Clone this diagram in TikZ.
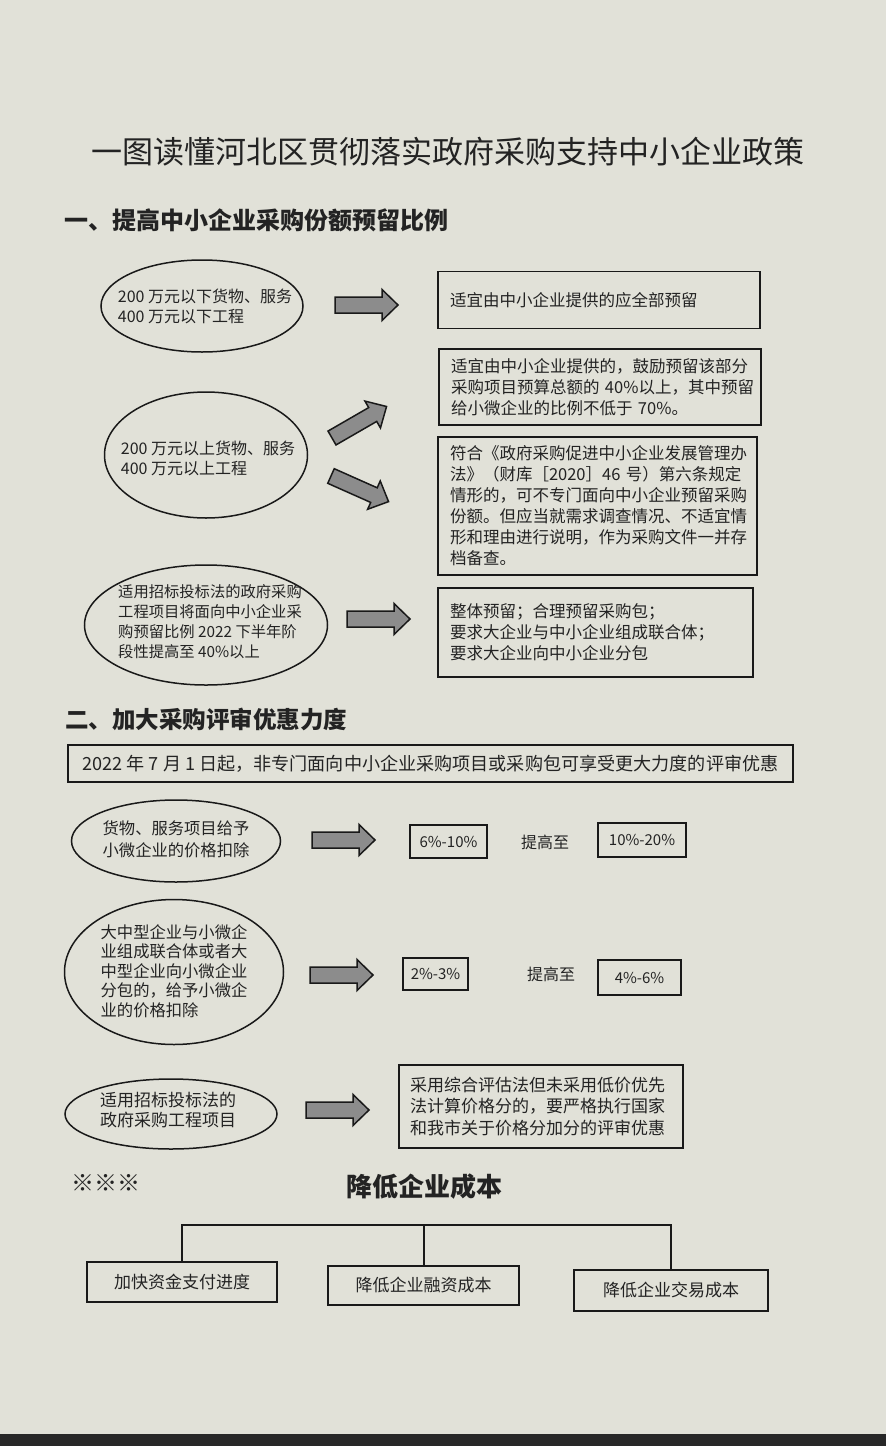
\documentclass[tikz,border=0pt]{standalone}
\usepackage{fontspec}
\setmainfont{Noto Sans CJK SC}
\usetikzlibrary{shapes.geometric}
\definecolor{paper}{RGB}{225,225,216}
\definecolor{ink}{RGB}{25,25,25}
\definecolor{txt}{RGB}{35,35,35}
\definecolor{arrowfill}{RGB}{140,140,140}
\definecolor{edge}{RGB}{40,40,40}
\newcommand{\fs}[2]{\fontsize{#1}{#2}\selectfont}
\begin{document}
\begin{tikzpicture}[x=1pt,y=-1pt,
  every node/.style={text=txt},
  oval/.style={draw=ink, line width=1.5pt, ellipse, inner sep=0pt},
  otext/.style={align=left, inner sep=0pt, font=\fs{16}{20}},
  tbox/.style={draw=ink, line width=1.8pt, inner xsep=12pt, inner ysep=0pt, align=left, font=\fs{16.5}{21}},
  sbox/.style={draw=ink, line width=1.8pt, inner sep=0pt, font=\fs{15}{18}},
  lbox/.style={draw=ink, line width=1.8pt, inner sep=0pt, font=\fs{17}{20}},
  barrow/.pic={\draw[line width=1.5pt, draw=ink, fill=arrowfill, line join=miter]
     (0,-8) -- (47,-8) -- (47,-15.5) -- (63,0) -- (47,15.5) -- (47,8) -- (0,8) -- cycle;},
  conn/.style={draw=ink, line width=2pt}
]
% page
\fill[paper] (0,0) rectangle (886,1446);
\fill[edge] (0,1434) rectangle (886,1446);
\useasboundingbox (0,0) rectangle (886,1446);

% title and headings
\node[font=\fs{31}{34}] (title) at (448,152) {一图读懂河北区贯彻落实政府采购支持中小企业政策};
\node[font=\fs{24}{28}\bfseries, anchor=west, inner sep=0pt] (h1) at (64,220) {一、提高中小企业采购份额预留比例};

% section 1
\node[oval, minimum width=202pt, minimum height=92pt] (e1) at (202,306) {};
\node[otext] (e1t) at (205,306) {200~万元以下货物、服务\\400~万元以下工程};
\node[tbox, text width=298pt, minimum height=57pt] (b1) at (599,300) {适宜由中小企业提供的应全部预留};
\pic at (335,305) {barrow};

\node[tbox, text width=298pt, minimum height=76pt] (b2) at (600,387) {适宜由中小企业提供的，鼓励预留该部分\\采购项目预算总额的~40\%以上，其中预留\\给小微企业的比例不低于~70\%。};
\node[oval, minimum width=203pt, minimum height=126pt] (e2) at (206,455) {};
\node[otext] (e2t) at (208,458) {200~万元以上货物、服务\\400~万元以上工程};
\pic[rotate=30] at (332,438) {barrow};
\pic[rotate=-24] at (331,476) {barrow};
\node[tbox, text width=295pt, minimum height=138pt] (b3) at (597.5,506) {符合《政府采购促进中小企业发展管理办\\法》（财库［2020］46~号）第六条规定\\情形的，可不专门面向中小企业预留采购\\份额。但应当就需求调查情况、不适宜情\\形和理由进行说明，作为采购文件一并存\\档备查。};

\node[oval, minimum width=243pt, minimum height=120pt] (e3) at (206,625) {};
\node[otext, font=\fs{15.3}{20}] (e3t) at (210,622) {适用招标投标法的政府采购\\工程项目将面向中小企业采\\购预留比例~2022~下半年阶\\段性提高至~40\%以上};
\pic at (347,619) {barrow};
\node[tbox, text width=291pt, minimum height=89pt] (b4) at (595.5,632.5) {整体预留；合理预留采购包；\\要求大企业与中小企业组成联合体；\\要求大企业向中小企业分包};

% section 2
\node[font=\fs{23.5}{28}\bfseries, anchor=west, inner sep=0pt] (h2) at (65,719) {二、加大采购评审优惠力度};
\node[draw=ink, line width=1.8pt, minimum width=725pt, minimum height=37pt, inner sep=0pt, font=\fs{18.1}{20}] (b5) at (430.5,763.5) {2022 年 7 月 1 日起，非专门面向中小企业采购项目或采购包可享受更大力度的评审优惠};

\node[oval, minimum width=209pt, minimum height=82pt] (e4) at (176,841) {};
\node[otext, align=center, font=\fs{16.3}{22}] (e4t) at (176,839) {货物、服务项目给予\\小微企业的价格扣除};
\pic at (312,840) {barrow};
\node[sbox, minimum width=77pt, minimum height=33pt] (s1) at (448.5,841.5) {6\%-10\%};
\node[font=\fs{16}{18}] (up1) at (545,842) {提高至};
\node[sbox, minimum width=88pt, minimum height=34pt] (s2) at (642,840) {10\%-20\%};

\node[oval, minimum width=219pt, minimum height=145pt] (e5) at (174,972) {};
\node[otext, font=\fs{16.3}{19.5}] (e5t) at (174,971) {大中型企业与小微企\\业组成联合体或者大\\中型企业向小微企业\\分包的，给予小微企\\业的价格扣除};
\pic at (310,975) {barrow};
\node[sbox, minimum width=65pt, minimum height=32pt] (s3) at (435.5,974) {2\%-3\%};
\node[font=\fs{16}{18}] (up2) at (551,974) {提高至};
\node[sbox, minimum width=83pt, minimum height=35pt] (s4) at (639.5,977.5) {4\%-6\%};

\node[oval, minimum width=212pt, minimum height=70pt] (e6) at (171,1114) {};
\node[otext, font=\fs{17}{20}] (e6t) at (168,1110) {适用招标投标法的\\政府采购工程项目};
\pic at (306,1110) {barrow};
\node[tbox, inner xsep=11pt, text width=262pt, minimum height=83pt, font=\fs{17}{21.5}] (b7) at (541,1106.5) {采用综合评估法但未采用低价优先\\法计算价格分的，要严格执行国家\\和我市关于价格分加分的评审优惠};

% section 3
\node[font=\fs{23}{24}, anchor=west, inner sep=0pt] (stars) at (71,1183) {※※※};
\node[font=\fs{26}{30}\bfseries] (cost) at (424,1187) {降低企业成本};
\node[lbox, minimum width=190pt, minimum height=40pt] (tA) at (182,1282) {加快资金支付进度};
\node[lbox, minimum width=191pt, minimum height=39pt] (tB) at (423.5,1285.5) {降低企业融资成本};
\node[lbox, minimum width=194pt, minimum height=41pt] (tC) at (671,1290.5) {降低企业交易成本};
\coordinate (hub) at (423.5,1225);
\draw[conn] (tA.north) -- (tA.north |- hub) -- (tC.north |- hub) -- (tC.north);
\draw[conn] (tB.north) -- (hub);
\end{tikzpicture}
\end{document}
